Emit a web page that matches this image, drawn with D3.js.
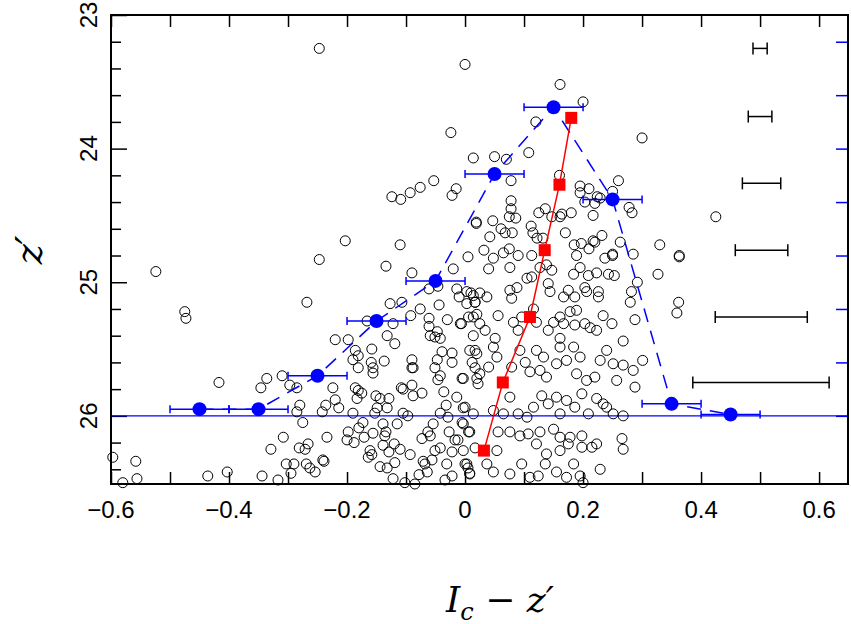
<!DOCTYPE html>
<html><head><meta charset="utf-8">
<script src="https://cdn.jsdelivr.net/npm/d3@7"></script>
<style>body{margin:0;background:#fff}</style>
</head><body><svg id="chart" width="851" height="624" font-family="Liberation Sans, Arial, sans-serif"></svg>
<script>
// scatter points [colour, magnitude]
const stars = [
[-0.247,23.25],[0.0,23.37],[-0.024,23.88],[0.014,24.07],[-0.053,24.24],[-0.076,24.29],[-0.093,24.33],[-0.109,24.38],[-0.124,24.36],[-0.015,24.30],[-0.022,24.35],[0.019,24.56],[-0.203,24.69],[-0.11,24.72],
[0.161,23.52],[0.2,23.65],[0.12,23.80],[0.3,23.92],[0.05,24.06],[0.07,24.08],[0.108,24.03],[0.078,24.24],[0.16,24.2],[0.195,24.28],[0.21,24.3],[0.195,24.33],[0.26,24.24],[0.25,24.32],
[0.224,24.36],[0.229,24.37],[0.22,24.41],[0.203,24.40],[0.278,24.44],[0.283,24.48],[0.425,24.51],[0.078,24.39],[0.078,24.45],[0.075,24.51],[0.086,24.52],[0.047,24.54],[0.019,24.55],
[0.061,24.6],[0.068,24.63],[0.08,24.63],[0.042,24.66],[0.032,24.76],[0.112,24.58],[0.115,24.63],[0.122,24.67],[0.132,24.67],[0.125,24.48],[0.136,24.45],[0.147,24.51],[0.161,24.51],[0.164,24.49],[0.18,24.48],
[0.17,24.63],[0.217,24.5],[0.217,24.69],[0.22,24.7],[0.232,24.65],[0.263,24.7],[0.185,24.72],[0.197,24.71],[0.21,24.75],[0.33,24.72],[0.075,24.75],[0.25,24.79],[0.285,24.79],[0.363,24.8],
[-0.524,24.92],[-0.247,24.83],[-0.475,25.22],[-0.473,25.27],[-0.268,25.15],[-0.417,25.75],[-0.134,24.88],[-0.09,24.93],[0.005,24.81],[-0.02,24.9],[-0.127,25.16],[-0.107,25.15],[-0.092,25.25],[-0.076,25.2],
[-0.061,25.05],[-0.046,25.03],[-0.014,25.05],[-0.01,25.11],[-0.044,25.17],[-0.166,25.29],[-0.122,25.31],[-0.061,25.27],[-0.061,25.33],[-0.059,25.4],[-0.03,25.28],[-0.008,25.31],[0.01,25.08],[0.017,25.15],[0.014,25.26],
[-0.22,25.43],[-0.198,25.43],[-0.132,25.4],[-0.119,25.46],[-0.186,25.51],[-0.181,25.55],[-0.19,25.58],[-0.158,25.5],[-0.159,25.6],[-0.156,25.64],[-0.156,25.68],[-0.137,25.59],[-0.181,25.64],[-0.09,25.58],[-0.088,25.64],[-0.09,25.64],
[-0.047,25.37],[-0.051,25.41],[-0.042,25.42],[-0.039,25.52],[-0.047,25.58],[-0.051,25.64],[-0.042,25.7],[-0.046,25.73],[-0.022,25.53],[-0.022,25.6],[-0.005,25.72],[0.017,25.51],[0.012,25.6],[0.017,25.64],[0.02,25.72],[0.022,25.76],
[-0.346,25.79],[-0.336,25.72],[-0.31,25.7],[-0.297,25.77],[-0.285,25.79],[-0.224,25.79],[-0.22,25.88],[-0.214,25.94],[-0.236,25.92],[-0.242,25.97],[-0.28,25.92],[-0.285,25.97],
[-0.186,25.79],[-0.181,25.81],[-0.175,25.83],[-0.183,25.87],[-0.19,25.98],[-0.151,25.85],[-0.144,25.87],[-0.129,25.87],[-0.132,25.94],[-0.149,25.94],[-0.153,25.98],
[-0.108,25.79],[-0.105,25.8],[-0.09,25.77],[-0.088,25.85],[-0.073,25.83],[-0.105,25.98],[-0.097,26.0],[-0.036,25.82],[-0.014,25.86],[-0.032,25.92],[-0.003,25.94],[-0.042,25.98],[-0.029,26.01],
[-0.275,26.05],[-0.308,26.16],[-0.329,26.25],[-0.281,26.24],[-0.266,26.21],[-0.271,26.25],[-0.234,26.16],[-0.241,26.33],[-0.239,26.34],[-0.254,26.42],[-0.263,26.39],[-0.269,26.36],[-0.29,26.36],[-0.303,26.36],[-0.295,26.43],
[-0.198,26.12],[-0.2,26.18],[-0.188,26.2],[-0.18,26.09],[-0.173,26.05],[-0.171,26.16],[-0.156,26.13],[-0.139,26.06],[-0.134,26.12],[-0.136,26.15],[-0.115,26.06],[-0.12,26.21],[-0.139,26.22],[-0.129,26.27],[-0.11,26.25],
[-0.161,26.26],[-0.158,26.29],[-0.164,26.31],[-0.144,26.38],[-0.132,26.39],[-0.119,26.35],[-0.093,26.29],[-0.122,26.47],[-0.102,26.5],[-0.085,26.51],[-0.071,26.34],[-0.068,26.36],[-0.056,26.33],[-0.073,26.17],[-0.059,26.15],[-0.063,26.12],[-0.054,26.06],[-0.051,26.26],[-0.042,26.24],
[-0.027,26.12],[-0.017,26.18],[-0.012,26.18],[-0.022,26.27],[-0.003,26.26],[-0.031,26.36],[-0.022,26.45],[0.003,26.36],[0.005,26.39],[0.008,26.43],[-0.005,26.05],[0.008,26.12],[0.017,26.24],[-0.034,26.48],[-0.064,26.42],[-0.078,26.44],
[-0.597,26.31],[-0.558,26.34],[-0.58,26.5],[-0.556,26.47],[-0.436,26.45],[-0.403,26.42],[-0.344,26.45],[-0.317,26.48],
[0.048,24.82],[0.04,24.9],[0.065,24.78],[0.076,24.89],[0.09,24.8],[0.113,24.8],[0.127,24.89],[0.138,24.87],[0.147,24.91],[0.189,24.8],[0.184,24.94],[0.195,24.89],[0.209,24.95],[0.223,24.93],[0.237,24.82],[0.25,24.8],[0.243,24.94],[0.253,24.95],[0.292,25.0],[0.327,24.94],[0.363,24.81],
[0.003,25.07],[0.014,25.1],[0.025,25.08],[0.037,25.11],[0.003,25.16],[0.017,25.15],[0.076,25.06],[0.079,25.12],[0.088,25.04],[0.105,24.97],[0.113,24.96],[0.141,25.01],[0.144,25.07],[0.167,25.11],[0.175,25.06],[0.186,25.11],[0.203,25.04],[0.206,25.07],[0.226,25.07],[0.226,25.11],[0.282,25.07],[0.28,25.15],[0.362,25.15],[0.359,25.23],
[-0.006,25.31],[0.006,25.26],[0.02,25.24],[0.025,25.31],[0.034,25.36],[0.014,25.4],[0.051,25.42],[0.056,25.25],[0.082,25.3],[0.09,25.36],[0.096,25.26],[0.116,25.2],[0.121,25.3],[0.141,25.36],[0.15,25.3],[0.161,25.26],[0.167,25.31],[0.161,25.42],[0.178,25.22],[0.186,25.32],[0.189,25.21],[0.203,25.31],[0.212,25.34],[0.223,25.36],[0.234,25.25],[0.249,25.31],[0.268,25.44],[0.288,25.28],[0.301,25.585],
[0.008,25.51],[0.02,25.535],[0.048,25.485],[0.054,25.56],[0.04,25.635],[0.025,25.685],[-0.003,25.72],[0.079,25.635],[0.093,25.51],[0.102,25.6],[0.11,25.67],[0.121,25.51],[0.133,25.56],[0.127,25.66],[0.138,25.71],[0.155,25.61],[0.161,25.485],[0.172,25.585],[0.184,25.485],[0.195,25.56],[0.189,25.685],[0.206,25.735],[0.229,25.585],[0.24,25.51],[0.251,25.61],[0.268,25.62],[0.257,25.735],[0.285,25.66],[0.288,25.785],[0.22,25.71],
[0.0,25.935],[0.014,25.985],[0.048,25.96],[0.065,25.985],[0.076,25.86],[0.09,25.985],[0.105,26.01],[0.116,25.935],[0.13,25.85],[0.141,25.91],[0.155,25.86],[0.161,25.985],[0.172,25.885],[0.186,25.935],[0.198,25.835],[0.209,25.985],[0.223,25.87],[0.24,25.935],[0.251,25.985],[0.268,26.0],[0.234,25.91],
[0.006,26.12],[-0.003,26.06],[0.056,26.12],[0.076,26.12],[0.093,26.15],[0.107,26.135],[0.127,26.12],[0.15,26.1],[0.161,26.16],[0.178,26.16],[0.161,26.26],[0.175,26.21],[0.198,26.15],[0.198,26.235],[0.215,26.235],[0.223,26.21],[0.266,26.17],[0.268,26.25],[0.121,26.21],[0.054,26.26],
[0.0,26.36],[0.008,26.435],[0.037,26.36],[0.048,26.42],[0.076,26.435],[0.096,26.36],[0.11,26.46],[0.124,26.45],[0.136,26.36],[0.155,26.42],[0.172,26.46],[0.184,26.36],[0.195,26.45],[0.2,26.5],[0.229,26.4],[0.138,26.285]
];
// binned means (blue) with colour error
const binX = [-0.45,-0.35,-0.25,-0.15,-0.05,0.05,0.15,0.25,0.35,0.45];
const binY = [25.95,25.95,25.70,25.29,24.99,24.19,23.69,24.38,25.91,25.99];
const binErr = [0.05,0.05,0.05,0.05,0.05,0.05,0.05,0.05,0.05,0.05];
// red model track
const redX = [0.032,0.064,0.11,0.135,0.16,0.18];
const redY = [26.26,25.75,25.26,24.76,24.27,23.77];
// typical photometric errors (black bars)
const errMag = [23.25,23.76,24.26,24.76,25.26,25.75];
const errLo = [0.488,0.48,0.47,0.458,0.424,0.386];
const errHi = [0.512,0.52,0.535,0.547,0.58,0.617];
const limitMag = 26.0;

const svg = d3.select('#chart');
const L = 111, R = 848, T = 15, B = 484;
const x = d3.scaleLinear().domain([-0.6, 0.649]).range([L, R]);
const y = d3.scaleLinear().domain([23, 26.51]).range([T, B]);

// axes
const xt = d3.range(-0.6, 0.65, 0.1);
svg.append('g').attr('transform', `translate(0,${B})`)
    .call(d3.axisBottom(x).tickValues(xt).tickSize(-12).tickFormat(''));
svg.append('g').attr('transform', `translate(0,${T})`)
    .call(d3.axisTop(x).tickValues(xt).tickSize(-12).tickFormat(''));
const yt = d3.range(23, 26.51, 0.2);
svg.append('g').attr('transform', `translate(${L},0)`)
    .call(d3.axisLeft(y).tickValues(yt).tickSize(-10).tickFormat(''))
    .selectAll('.tick line').attr('x2', (d) => Math.abs(d - Math.round(d)) < 0.01 ? 16 : 10);
svg.append('g').attr('transform', `translate(${R},0)`)
    .call(d3.axisRight(y).tickValues(d3.range(23.2, 26.1, 0.4)).tickSize(-12).tickFormat(''))
    .selectAll('.tick line').attr('stroke', 'blue').attr('stroke-width', 1.5);
svg.selectAll('.domain').remove();
svg.selectAll('.tick line').filter(function(){ return !this.getAttribute('stroke') || this.getAttribute('stroke') === 'currentColor'; })
    .attr('stroke', '#000').attr('stroke-width', 1.5);

[-0.6,-0.4,-0.2,0,0.2,0.4,0.6].forEach(v => {
    svg.append('text').attr('x', x(v)).attr('y', B + 34).attr('text-anchor', 'middle')
        .attr('font-size', 24).text(v === 0 ? '0' : (v < 0 ? '\u2212' : '') + Math.abs(v).toFixed(1));
});
[23,24,25,26].forEach(v => {
    svg.append('text').attr('transform', `translate(${L - 14},${y(v)}) rotate(-90)`)
        .attr('text-anchor', 'middle').attr('font-size', 24).text(v);
});
svg.append('text').attr('transform', `translate(42,250) rotate(-90)`).attr('text-anchor', 'middle')
    .style('font-size', '38px').style('font-style', 'italic').style('font-family', 'DejaVu Serif').text('z\u2032');
const xl = svg.append('text').attr('x', 500).attr('y', 612).attr('text-anchor', 'middle')
    .style('font-size', '36px').style('font-family', 'DejaVu Serif');
xl.append('tspan').style('font-style', 'italic').text('I');
xl.append('tspan').style('font-style', 'italic').style('font-size', '24px').attr('dy', 8).text('c');
xl.append('tspan').attr('dy', -8).text(' \u2212 ');
xl.append('tspan').style('font-style', 'italic').text('z\u2032');

const g = svg.append('g');
g.append('line').attr('x1', L).attr('x2', R).attr('y1', y(limitMag)).attr('y2', y(limitMag))
    .attr('stroke', 'blue').attr('stroke-width', 1.2);

g.selectAll('.star').data(stars).join('circle')
    .attr('cx', d => x(d[0])).attr('cy', d => y(d[1])).attr('r', 5)
    .attr('fill', 'none').attr('stroke', '#000').attr('stroke-width', 1);

// black error bars
errMag.forEach((m, i) => {
    g.append('line').attr('x1', x(errLo[i])).attr('x2', x(errHi[i])).attr('y1', y(m)).attr('y2', y(m)).attr('stroke', '#000').attr('stroke-width', 1.5);
    [errLo[i], errHi[i]].forEach(v => g.append('line').attr('x1', x(v)).attr('x2', x(v)).attr('y1', y(m) - 6).attr('y2', y(m) + 6).attr('stroke', '#000').attr('stroke-width', 1.5));
});

// blue dashed track
g.append('path').datum(binX.map((v, i) => [v, binY[i]]))
    .attr('d', d3.line().x(d => x(d[0])).y(d => y(d[1])))
    .attr('fill', 'none').attr('stroke', 'blue').attr('stroke-width', 1.5).attr('stroke-dasharray', '14,9');
binX.forEach((v, i) => {
    const yy = y(binY[i]);
    g.append('line').attr('x1', x(v - binErr[i])).attr('x2', x(v + binErr[i])).attr('y1', yy).attr('y2', yy).attr('stroke', 'blue').attr('stroke-width', 1.5);
    [v - binErr[i], v + binErr[i]].forEach(e => g.append('line').attr('x1', x(e)).attr('x2', x(e)).attr('y1', yy - 4).attr('y2', yy + 4).attr('stroke', 'blue').attr('stroke-width', 1.5));
    g.append('circle').attr('cx', x(v)).attr('cy', yy).attr('r', 7).attr('fill', 'blue');
});

// red track
g.append('path').datum(redX.map((v, i) => [v, redY[i]]))
    .attr('d', d3.line().x(d => x(d[0])).y(d => y(d[1])))
    .attr('fill', 'none').attr('stroke', 'red').attr('stroke-width', 1.5);
g.selectAll('.red').data(redX).join('rect')
    .attr('x', (d) => x(d) - 6).attr('y', (d, i) => y(redY[i]) - 6).attr('width', 12).attr('height', 12).attr('fill', 'red');

svg.append('rect').attr('x', L).attr('y', T).attr('width', R - L).attr('height', B - T)
    .attr('fill', 'none').attr('stroke', '#000').attr('stroke-width', 2);
</script></body></html>
